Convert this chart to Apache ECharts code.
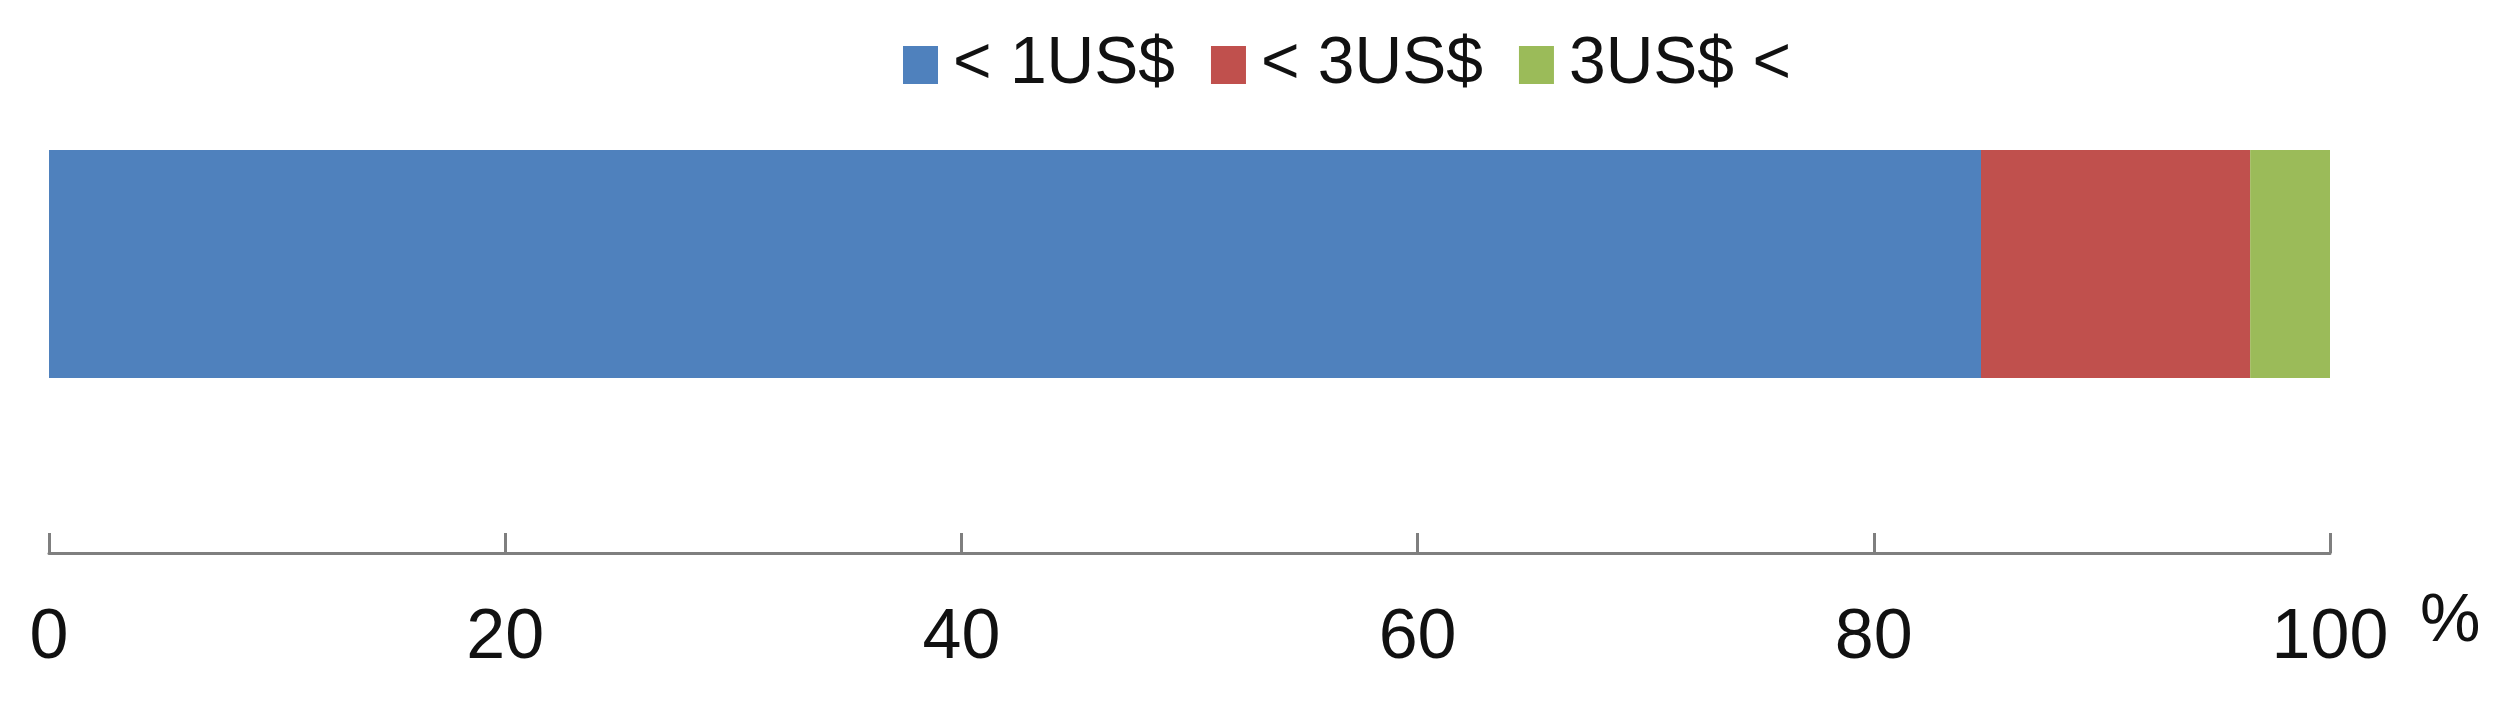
<!DOCTYPE html>
<html>
<head>
<meta charset="utf-8">
<script src="https://cdn.jsdelivr.net/npm/echarts@6/dist/echarts.min.js"></script>
<style>
html,body{margin:0;padding:0;background:#fff;}
#chart{width:2512px;height:701px;}
</style>
</head>
<body>
<div id="chart"></div>
<script>
const categories = [''];
const seriesNames = ['< 1US$', '< 3US$', '3US$ <'];
const below1 = [84.7];
const below3 = [11.8];
const above3 = [3.5];
const xTicks = [0, 20, 40, 60, 80, 100];
const unitLabel = '%';
const colors = ['#4F81BD', '#C0504D', '#9BBB59'];

const chart = echarts.init(document.getElementById('chart'), null, {renderer: 'canvas'});
const font = 'Liberation Sans, Arial, sans-serif';
const mk = (name, data, color) => ({
  name: name, type: 'bar', stack: 'total', data: data,
  barWidth: 228, itemStyle: {color: color}, emphasis: {disabled: true}
});
chart.setOption({
  animation: false,
  backgroundColor: '#fff',
  legend: {
    left: 898, top: 27,
    itemWidth: 35, itemHeight: 38, itemGap: 36,
    icon: 'rect',
    textStyle: {fontFamily: font, fontSize: 66, color: '#111', padding: [0, 0, 0, 10]},
    data: seriesNames
  },
  grid: {left: 49, right: 182, top: 150, height: 228, containLabel: false},
  xAxis: {
    type: 'value', min: xTicks[0], max: xTicks[xTicks.length - 1], interval: 20,
    offset: 175,
    axisLine: {show: true, lineStyle: {color: '#7f7f7f', width: 3}},
    axisTick: {show: true, inside: true, length: 20, lineStyle: {color: '#7f7f7f', width: 3}},
    axisLabel: {fontFamily: font, fontSize: 70, color: '#111', margin: 51},
    splitLine: {show: false}
  },
  yAxis: {
    type: 'category', data: categories,
    axisLine: {show: false}, axisTick: {show: false}, axisLabel: {show: false}
  },
  series: [
    mk(seriesNames[0], below1, colors[0]),
    mk(seriesNames[1], below3, colors[1]),
    mk(seriesNames[2], above3, colors[2])
  ]
});
const endX = chart.convertToPixel({xAxisIndex: 0}, xTicks[xTicks.length - 1]);
chart.setOption({
  graphic: [{
    type: 'text', left: endX + 90, top: 588,
    style: {text: unitLabel, fontFamily: font, fontSize: 68, fill: '#111'}
  }]
});
</script>
</body>
</html>
